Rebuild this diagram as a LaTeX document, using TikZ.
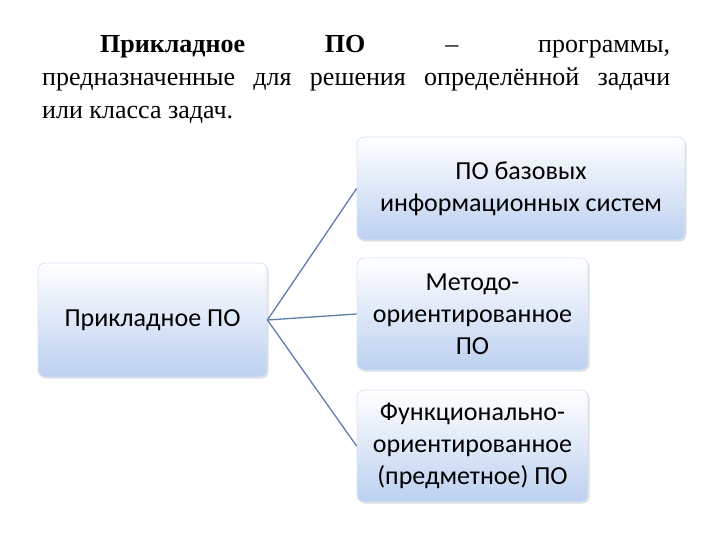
\documentclass[tikz,border=0pt]{standalone}
\usepackage{fontspec}
\setmainfont{Liberation Serif}
\newfontfamily\boxfont{Carlito}
\usetikzlibrary{shadows}
\definecolor{bfill}{RGB}{188,208,240}
\definecolor{bline}{RGB}{215,228,246}
\definecolor{conn}{RGB}{95,125,170}
\begin{document}
\begin{tikzpicture}[x=1pt,y=1pt,
  box/.style={draw=bline,line width=0.8pt,rounded corners=7pt,top color=white,bottom color=bfill,
    align=center,font=\boxfont\fontsize{26}{32}\selectfont,inner sep=0pt,
    drop shadow={opacity=0.25,shadow xshift=1.5pt,shadow yshift=-1.5pt}},
  conn/.style={draw=conn,line width=1.3pt},
  txt/.style={anchor=base west,inner sep=0pt,font=\fontsize{26}{32}\selectfont}]
\useasboundingbox (0,0) rectangle (720,-540);
\node[txt] (l1) at (100,-53) {\hbox to 570pt{\textbf{Прикладное}\hfill \textbf{ПО}\hfill –\hfill программы,}};
\node[txt] (l2) at (42,-86) {\hbox to 628pt{предназначенные\hfil для\hfil решения\hfil определённой\hfil задачи}};
\node[txt] (l3) at (42,-119) {или класса задач.};
\node[box,minimum width=229pt,minimum height=114pt] (a) at (152.5,-320) {Прикладное ПО};
\node[box,minimum width=328pt,minimum height=103pt] (b1) at (521,-188.5) {ПО базовых\\информационных систем};
\node[box,minimum width=231pt,minimum height=112pt] (b2) at (472.5,-314) {Методо-\\ориентированное\\ПО};
\node[box,minimum width=231pt,minimum height=112pt] (b3) at (472.5,-446) {Функционально-\\ориентированное\\(предметное) ПО};
\draw[conn] (a.east) -- (b1.west);
\draw[conn] (a.east) -- (b2.west);
\draw[conn] (a.east) -- (b3.west);
\end{tikzpicture}
\end{document}
